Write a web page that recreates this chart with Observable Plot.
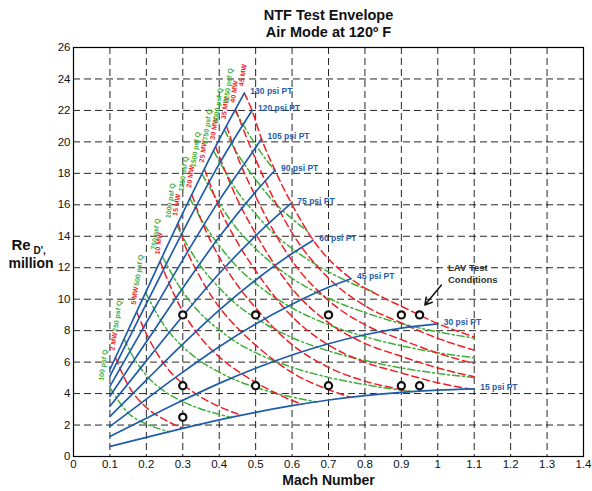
<!DOCTYPE html>
<html><head><meta charset="utf-8">
<script src="https://cdn.jsdelivr.net/npm/d3@7"></script>
<script src="https://cdn.jsdelivr.net/npm/@observablehq/plot@0.6"></script>
<style>body{margin:0;background:#fff} svg{display:block}</style>
</head><body><div id="chart"></div>
<script>
// Axis ticks
const machTicks = [0,0.1,0.2,0.3,0.4,0.5,0.6,0.7,0.8,0.9,1,1.1,1.2,1.3,1.4];
const reTicks = [0,2,4,6,8,10,12,14,16,18,20,22,24,26];

// Constant total pressure lines (Mach, Re million)
const ptNames = ["15 psi PT","30 psi PT","45 psi PT","60 psi PT","75 psi PT","90 psi PT","105 psi PT","120 psi PT","130 psi PT"];
const pt15 = [[0.1,0.64],[0.2,1.22],[0.3,1.79],[0.4,2.33],[0.5,2.81],[0.6,3.23],[0.7,3.59],[0.8,3.87],[0.9,4.08],[1.0,4.22],[1.1,4.3]];
const pt30 = [[0.1,1.28],[0.2,2.43],[0.3,3.57],[0.4,4.65],[0.5,5.61],[0.6,6.45],[0.7,7.17],[0.8,7.74],[0.9,8.16],[1.0,8.43]];
const pt45 = [[0.1,1.91],[0.2,3.65],[0.3,5.36],[0.4,6.98],[0.5,8.42],[0.6,9.68],[0.7,10.76],[0.762,11.3]];
const pt60 = [[0.1,2.55],[0.2,4.86],[0.3,7.14],[0.4,9.3],[0.5,11.22],[0.6,12.9],[0.658,13.75]];
const pt75 = [[0.1,3.19],[0.2,6.08],[0.3,8.93],[0.4,11.63],[0.5,14.03],[0.598,16.1]];
const pt90 = [[0.1,3.83],[0.2,7.29],[0.3,10.71],[0.4,13.95],[0.5,16.83],[0.553,18.2]];
const pt105 = [[0.1,4.46],[0.2,8.51],[0.3,12.5],[0.4,16.28],[0.5,19.64],[0.516,20.2]];
const pt120 = [[0.1,5.1],[0.2,9.72],[0.3,14.28],[0.4,18.6],[0.49,22.0]];
const pt130 = [[0.1,5.53],[0.2,10.53],[0.3,15.47],[0.4,20.15],[0.469,23.1]];

// Constant power lines
const mwNames = ["2 MW","5 MW","10 MW","15 MW","20 MW","25 MW","30 MW","35 MW","40 MW","45 MW"];
const mw2 = [[0.115,6.3],[0.15,4.53],[0.2,3.12],[0.25,2.34],[0.3,1.8]];
const mw5 = [[0.173,9.2],[0.2,7.8],[0.25,5.84],[0.3,4.61],[0.35,3.77],[0.4,3.17],[0.46,2.63]];
const mw10 = [[0.238,12.4],[0.25,11.69],[0.3,9.22],[0.35,7.53],[0.4,6.33],[0.45,5.44],[0.5,4.72],[0.6,3.56],[0.627,3.33]];
const mw15 = [[0.287,14.85],[0.3,13.83],[0.35,11.3],[0.4,9.5],[0.45,8.17],[0.5,7.08],[0.6,5.33],[0.7,4.25],[0.76,3.77]];
const mw20 = [[0.325,16.65],[0.35,15.07],[0.4,12.67],[0.45,10.89],[0.5,9.44],[0.6,7.11],[0.7,5.67],[0.8,4.79],[0.9,4.24],[0.92,4.13]];
const mw25 = [[0.36,18.25],[0.4,15.83],[0.45,13.61],[0.5,11.81],[0.6,8.89],[0.7,7.09],[0.8,5.99],[0.9,5.31],[1.0,4.69],[1.09,4.29]];
const mw30 = [[0.39,19.7],[0.45,16.33],[0.5,14.17],[0.6,10.67],[0.7,8.51],[0.8,7.19],[0.9,6.37],[1.0,5.63],[1.1,5.07]];
const mw35 = [[0.42,21.0],[0.45,19.06],[0.5,16.53],[0.6,12.44],[0.7,9.92],[0.8,8.38],[0.9,7.43],[1.0,6.57],[1.1,5.91]];
const mw40 = [[0.445,22.05],[0.5,18.89],[0.6,14.22],[0.7,11.34],[0.8,9.58],[0.9,8.49],[1.0,7.51],[1.1,6.76]];
const mw45 = [[0.469,23.1],[0.49,22.0],[0.516,20.2],[0.553,18.2],[0.598,16.1],[0.658,13.75],[0.762,11.3],[0.85,10.1],[0.9,9.55],[1.0,8.45],[1.1,7.6]];

// Constant dynamic pressure lines
const qNames = ["100 psf Q","250 psf Q","500 psf Q","750 psf Q","1000 psf Q","1250 psf Q","1500 psf Q","1750 psf Q","2000 psf Q","2250 psf Q"];
const q100 = [[0.1,4.37],[0.15,2.77],[0.2,2.07],[0.25,1.66],[0.263,1.58]];
const q250 = [[0.139,7.48],[0.15,6.93],[0.2,5.16],[0.25,4.14],[0.3,3.49],[0.35,3.02],[0.4,2.68],[0.433,2.48]];
const q500 = [[0.198,10.4],[0.25,8.29],[0.3,6.98],[0.35,6.04],[0.4,5.36],[0.45,4.81],[0.5,4.4],[0.55,4.05],[0.6,3.78],[0.668,3.47]];
const q750 = [[0.244,12.7],[0.3,10.47],[0.35,9.06],[0.4,8.05],[0.45,7.22],[0.5,6.6],[0.6,5.67],[0.7,5.03],[0.8,4.57],[0.9,4.22],[0.935,4.13]];
const q1000 = [[0.284,14.7],[0.3,13.96],[0.35,12.08],[0.4,10.73],[0.45,9.62],[0.5,8.8],[0.6,7.56],[0.7,6.71],[0.8,6.1],[0.9,5.63],[1.0,5.28],[1.1,5.02]];
const q1250 = [[0.32,16.4],[0.35,15.09],[0.4,13.41],[0.45,12.03],[0.5,11.0],[0.6,9.44],[0.7,8.38],[0.8,7.62],[0.9,7.04],[1.0,6.6],[1.1,6.28]];
const q1500 = [[0.353,17.95],[0.4,16.09],[0.45,14.44],[0.5,13.21],[0.6,11.33],[0.7,10.06],[0.8,9.15],[0.9,8.45],[1.0,7.92],[1.1,7.53]];
const q1750 = [[0.385,19.4],[0.4,18.78],[0.45,16.84],[0.5,15.41],[0.55,14.17],[0.6,13.22],[0.7,11.74],[0.8,10.67],[0.82,10.5]];
const q2000 = [[0.4145,20.75],[0.45,19.25],[0.5,17.61],[0.55,16.19],[0.6,15.11],[0.645,14.27]];
const q2250 = [[0.443,22.0],[0.5,19.81],[0.555,18.1]];

// Test points
const testMach = [0.3,0.5,0.7,0.9,0.95,0.3,0.5,0.7,0.9,0.95,0.3];
const testRe   = [9,9,9,9,9,4.5,4.5,4.5,4.5,4.5,2.5];

// Annotation
const lavText = ["LAV Test\nConditions"];
const lavTextPos = [1.028, 11.67];
const lavArrow = [[1.01, 10.9],[0.9645, 9.63]];

// Build tables
function rows(names, arrays) {
  const out = [];
  arrays.forEach((a, i) => a.forEach(([m, r]) => out.push({name: names[i], M: m, Re: r})));
  return out;
}
const ptArrays = [pt15,pt30,pt45,pt60,pt75,pt90,pt105,pt120,pt130];
const mwArrays = [mw2,mw5,mw10,mw15,mw20,mw25,mw30,mw35,mw40,mw45];
const qArrays  = [q100,q250,q500,q750,q1000,q1250,q1500,q1750,q2000,q2250];
const ptRows = rows(ptNames, ptArrays);
const mwRows = rows(mwNames, mwArrays);
const qRows  = rows(qNames, qArrays);
const ptEnds = ptArrays.map((a, i) => ({name: ptNames[i], M: a[a.length-1][0], Re: a[a.length-1][1]}));
const mwStarts = mwArrays.map((a, i) => ({name: mwNames[i], M: a[0][0], Re: a[0][1]}));
const qStarts  = qArrays.map((a, i) => ({name: qNames[i], M: a[0][0], Re: a[0][1]}));
const tests = testMach.map((m, i) => ({M: m, Re: testRe[i]}));

const BLUE = "#1f5cab", RED = "#ee1f25", GREEN = "#3fae3a";
const FONT = "'Liberation Sans', Arial, Helvetica, sans-serif";

const chart = Plot.plot({
  width: 592, height: 491,
  marginLeft: 73, marginRight: 9, marginTop: 47, marginBottom: 35,
  style: {fontFamily: FONT, fontSize: "11.5px", color: "#111", background: "#fff"},
  x: {domain: [0, 1.4], ticks: machTicks, tickFormat: d => String(d), tickSize: 0, tickPadding: 3, label: null},
  y: {domain: [0, 26], ticks: reTicks, tickSize: 0, tickPadding: 3, label: null},
  marks: [
    Plot.gridX(machTicks, {stroke: "#000", strokeOpacity: 0.85, strokeWidth: 1, strokeDasharray: "7,4"}),
    Plot.gridY(reTicks, {stroke: "#000", strokeOpacity: 0.85, strokeWidth: 1, strokeDasharray: "7,4"}),
    Plot.line(qRows, {x: "M", y: "Re", z: "name", stroke: GREEN, strokeWidth: 1.5, strokeDasharray: "7,3,2,3", curve: "monotone-x"}),
    Plot.line(mwRows, {x: "M", y: "Re", z: "name", stroke: RED, strokeWidth: 1.5, strokeDasharray: "7,4", curve: "monotone-x"}),
    Plot.line(ptRows, {x: "M", y: "Re", z: "name", stroke: BLUE, strokeWidth: 1.7, curve: "monotone-x"}),
    Plot.dot(tests, {x: "M", y: "Re", r: 3.6, stroke: "#111", strokeWidth: 2.2, fill: "#fff"}),
    Plot.text(ptEnds, {x: "M", y: "Re", text: "name", fill: BLUE, fontSize: 8.5, fontWeight: "bold", textAnchor: "start", dx: 6, dy: -2}),
    Plot.text(mwStarts, {x: "M", y: "Re", text: "name", fill: RED, fontSize: 7, fontWeight: "bold", textAnchor: "start", rotate: -82, dx: -3, dy: -7}),
    Plot.text(qStarts, {x: "M", y: "Re", text: "name", fill: GREEN, fontSize: 7, fontWeight: "bold", textAnchor: "start", rotate: -82, dx: -9, dy: -7}),
    Plot.text(lavText, {x: () => lavTextPos[0], y: () => lavTextPos[1], text: d => d, fill: "#333", fontSize: 9.5, fontWeight: "bold", textAnchor: "start", lineHeight: 1.25}),
    Plot.arrow([lavArrow], {x1: d => d[0][0], y1: d => d[0][1], x2: d => d[1][0], y2: d => d[1][1], stroke: "#111", strokeWidth: 1.5, headLength: 8}),
    Plot.frame({stroke: "#000", strokeWidth: 1.2}),
    Plot.text(["NTF Test Envelope"], {frameAnchor: "top", lineAnchor: "middle", dy: -32, fontSize: 14.5, fontWeight: "bold", fill: "#111"}),
    Plot.text(["Air Mode at 120º F"], {frameAnchor: "top", lineAnchor: "middle", dy: -15, fontSize: 14.5, fontWeight: "bold", fill: "#111"}),
    Plot.text(["Mach Number"], {frameAnchor: "bottom", lineAnchor: "middle", dy: 24, fontSize: 14, fontWeight: "bold", fill: "#111"}),
    Plot.text(["Re"], {frameAnchor: "left", textAnchor: "start", dx: -62, dy: -7, fontSize: 15, fontWeight: "bold", fill: "#111"}),
    Plot.text(["D',"], {frameAnchor: "left", textAnchor: "start", dx: -40, dy: -1, fontSize: 10, fontWeight: "bold", fill: "#111"}),
    Plot.text(["million"], {frameAnchor: "left", textAnchor: "start", dx: -65, dy: 12, fontSize: 14, fontWeight: "bold", fill: "#111"})
  ]
});
document.getElementById("chart").appendChild(chart);
</script></body></html>
